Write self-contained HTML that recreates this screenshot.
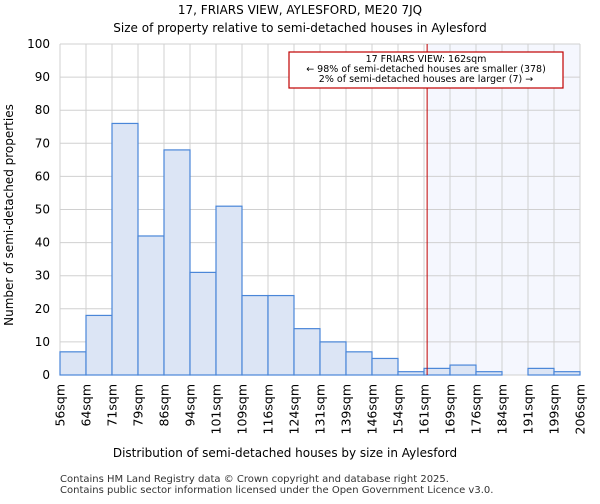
<!DOCTYPE html>
<html><head><meta charset="utf-8"><style>
body{margin:0;background:#fff;font-family:"DejaVu Sans","Liberation Sans",sans-serif}
</style></head><body>
<svg id="c" width="600" height="500" xmlns="http://www.w3.org/2000/svg" font-family="DejaVu Sans, Liberation Sans, sans-serif">
<text x="300" y="14" text-anchor="middle" font-size="12">17, FRIARS VIEW, AYLESFORD, ME20 7JQ</text>
<text x="300" y="32" text-anchor="middle" font-size="12">Size of property relative to semi-detached houses in Aylesford</text>
<g id="g"></g>
<text x="285" y="457" text-anchor="middle" font-size="12">Distribution of semi-detached houses by size in Aylesford</text>
<text transform="translate(13,215) rotate(-90)" text-anchor="middle" font-size="12">Number of semi-detached properties</text>
<text x="60" y="482" font-size="10" fill="#333">Contains HM Land Registry data © Crown copyright and database right 2025.</text>
<text x="60" y="493" font-size="10" fill="#333">Contains public sector information licensed under the Open Government Licence v3.0.</text>
</svg>
<script>
const binLabels=["56sqm","64sqm","71sqm","79sqm","86sqm","94sqm","101sqm","109sqm","116sqm","124sqm","131sqm","139sqm","146sqm","154sqm","161sqm","169sqm","176sqm","184sqm","191sqm","199sqm","206sqm"];
const counts=[7,18,76,42,68,31,51,24,24,14,10,7,5,1,2,3,1,0,2,1];
const yTicks=[0,10,20,30,40,50,60,70,80,90,100];
const markerBin=14.12;
const NS="http://www.w3.org/2000/svg";
const L=60,R=580,T=44,B=375,yMax=100;
const bw=(R-L)/counts.length;
const xs=i=>L+i*bw, ys=v=>B-(v/yMax)*(B-T);
const g=document.getElementById('g');
function mk(t,a){const e=document.createElementNS(NS,t);for(const k in a)e.setAttribute(k,a[k]);g.appendChild(e);return e;}
const xm=xs(markerBin);
let e=mk('rect',{x:xm,y:T,width:R-xm,height:B-T,fill:'#f5f7fe'});


for(let i=0;i<binLabels.length;i++){
 e=mk('line',{x1:xs(i),x2:xs(i),y1:T,y2:B,stroke:'#d0d0d0'});
 
 
 e=mk('text',{transform:`translate(${xs(i)+4.5},${B+9}) rotate(-90)`,'text-anchor':'end','font-size':12.5});
 e.textContent=binLabels[i];
 
 
}
yTicks.forEach(v=>{
 e=mk('line',{x1:L,x2:R,y1:ys(v),y2:ys(v),stroke:'#d0d0d0'});
 
 
 e=mk('text',{x:L-10,y:ys(v)+4,'text-anchor':'end','font-size':12});
 e.textContent=v;
 
 
});
counts.forEach((v,i)=>{
 e=mk('rect',{x:xs(i),y:ys(v),width:bw,height:B-ys(v),fill:'#dce5f5',stroke:'#4a86d8','stroke-width':1.2});
 
 
});
e=mk('line',{x1:xm,x2:xm,y1:T,y2:B,stroke:'#c00000','stroke-width':1});


e=mk('rect',{x:289,y:52,width:274,height:36,fill:'#fff',stroke:'#c00000','stroke-width':1.2});


["17 FRIARS VIEW: 162sqm","← 98% of semi-detached houses are smaller (378)","2% of semi-detached houses are larger (7) →"].forEach((t,k)=>{
 e=mk('text',{x:426,y:62+k*10,'text-anchor':'middle','font-size':9.5});
 e.textContent=t;
 
 
});
</script>
</body></html>
